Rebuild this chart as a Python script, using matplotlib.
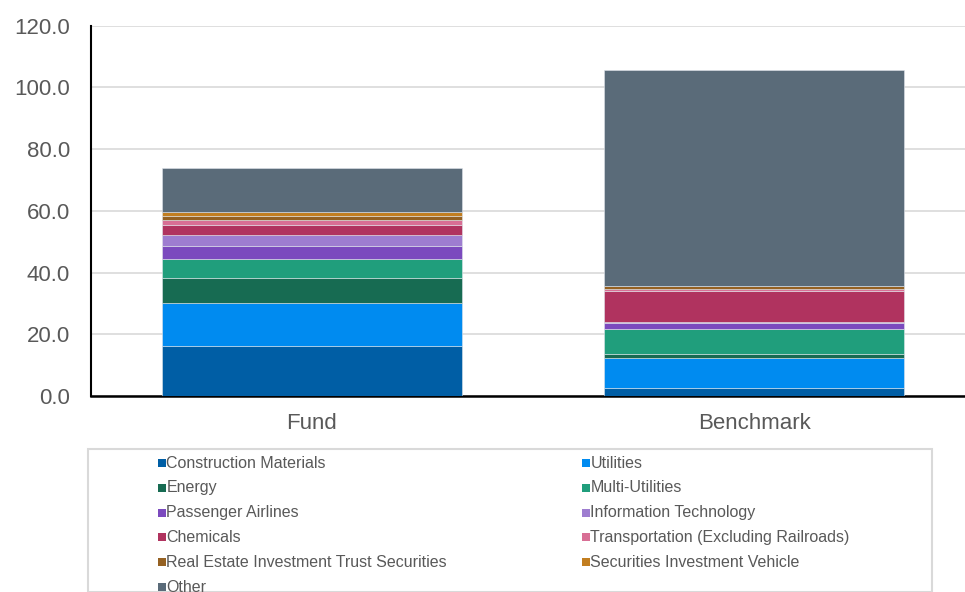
import matplotlib.pyplot as plt
from matplotlib.patches import Rectangle

plt.rcParams['font.family'] = ['Liberation Sans', 'DejaVu Sans']

# Donnees
groups = ['Fund', 'Benchmark']
sectors = ['Construction Materials', 'Utilities', 'Energy', 'Multi-Utilities',
           'Passenger Airlines', 'Information Technology', 'Chemicals',
           'Transportation (Excluding Railroads)',
           'Real Estate Investment Trust Securities',
           'Securities Investment Vehicle', 'Other']
fund = [16.3, 13.7, 8.4, 5.9, 4.3, 3.5, 3.3, 1.5, 1.4, 1.3, 14.4]
benchmark = [2.5, 9.7, 1.3, 8.2, 2.0, 0.3, 10.1, 0.5, 1.0, 0.0, 70.2]
colors = ['#005EA5', '#008BF0', '#176B52', '#209E7C', '#7B4ABE', '#9E7DD0',
          '#B0335F', '#D86F95', '#956122', '#C27E20', '#5A6B79']
yticks = [0, 20, 40, 60, 80, 100, 120]

fig = plt.figure(figsize=(9.65, 5.92), dpi=100)
ax = fig.add_axes([91/965, 1-396/592, (975-91)/965, (396-25.7)/592])

x = list(range(len(groups)))
bottom = [0.0, 0.0]
for i, name in enumerate(sectors):
    vals = [fund[i], benchmark[i]]
    ax.bar(x, vals, width=0.678, bottom=bottom, color=colors[i],
           edgecolor='#dfe4ea', linewidth=0.4, zorder=3)
    bottom = [b + v for b, v in zip(bottom, vals)]

ax.set_xlim(-0.5, 1.5)
ax.set_ylim(0, 120)
ax.set_yticks(yticks)
ax.set_yticklabels([f'{t:.1f}' for t in yticks])
ax.set_xticks(x)
ax.set_xticklabels(groups)
ax.tick_params(axis='y', length=0, pad=15, labelsize=16, labelcolor='#595959')
ax.tick_params(axis='x', length=0, pad=12, labelsize=16, labelcolor='#595959')
ax.grid(axis='y', color='#d9d9d9', linewidth=1.2, zorder=0)
for s in ['top', 'right']:
    ax.spines[s].set_visible(False)
ax.spines['left'].set_linewidth(1.5)
ax.spines['bottom'].set_linewidth(1.8)
ax.spines['left'].set_color('black')
ax.spines['bottom'].set_color('black')

# Legende manuelle (2 colonnes, ordre par ligne)
W, H = 965, 592
fig.patches.append(Rectangle((88/W, 0), (932-88)/W, 1-449/H,
                             transform=fig.transFigure, facecolor='white',
                             edgecolor='#d9d9d9', linewidth=1.5))
col_x = [158, 582]
for i, name in enumerate(sectors):
    cx = col_x[i % 2]
    cy = 463 + 24.8 * (i // 2)
    fig.patches.append(Rectangle((cx/W, 1-(cy+4)/H), 8/W, 8/H,
                                 transform=fig.transFigure,
                                 facecolor=colors[i], edgecolor='none'))
    fig.text((cx+8.5)/W, 1-cy/H, name, fontsize=11.5, color='#595959',
             va='center', ha='left')

fig.savefig('out.png', dpi=100)
